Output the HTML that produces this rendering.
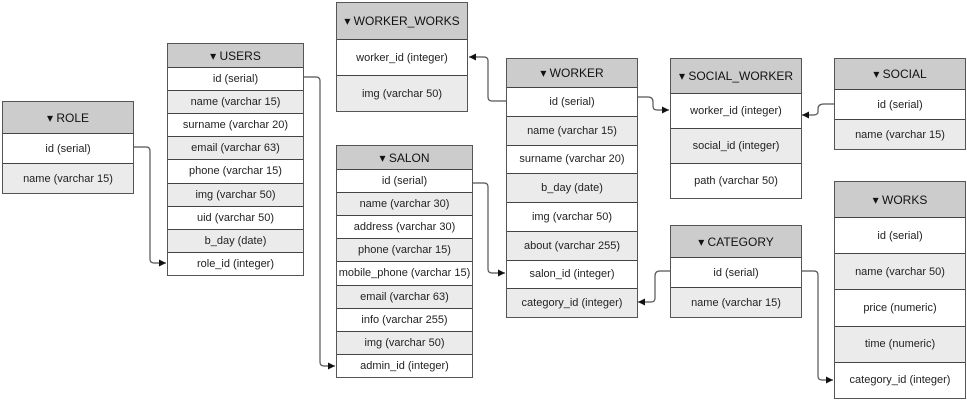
<!DOCTYPE html>
<html><head><meta charset="utf-8"><style>
html,body{margin:0;padding:0;background:#fff;width:967px;height:403px;overflow:hidden;font-family:"Liberation Sans",sans-serif;font-size:11px;color:#222}
.t{position:absolute;border:1px solid #555;box-sizing:border-box;background:#fff;display:flex;flex-direction:column;overflow:hidden}
.t div{display:flex;align-items:center;justify-content:center;box-sizing:border-box;border-top:1px solid #444;white-space:nowrap;flex:1 1 0;min-height:0}
.t div.h{background:#ccc;border-top:none;font-size:12px;color:#111;flex:none}
.t div.g{background:#ebebeb}
svg{position:absolute;left:0;top:0}
</style></head><body>

<div class="t" style="left:2px;top:101px;width:132px;height:93px">
<div class="h" style="height:31px">▾ ROLE</div>
<div>id (serial)</div>
<div class="g">name (varchar 15)</div>
</div>

<div class="t" style="left:167px;top:43px;width:137px;height:233px">
<div class="h" style="height:23px">▾ USERS</div>
<div>id (serial)</div>
<div class="g">name (varchar 15)</div>
<div>surname (varchar 20)</div>
<div class="g">email (varchar 63)</div>
<div>phone (varchar 15)</div>
<div class="g">img (varchar 50)</div>
<div>uid (varchar 50)</div>
<div class="g">b_day (date)</div>
<div>role_id (integer)</div>
</div>

<div class="t" style="left:336px;top:2px;width:132px;height:110px">
<div class="h" style="height:36px">▾ WORKER_WORKS</div>
<div>worker_id (integer)</div>
<div class="g">img (varchar 50)</div>
</div>

<div class="t" style="left:336px;top:145px;width:137px;height:233px">
<div class="h" style="height:23px">▾ SALON</div>
<div>id (serial)</div>
<div class="g">name (varchar 30)</div>
<div>address (varchar 30)</div>
<div class="g">phone (varchar 15)</div>
<div>mobile_phone (varchar 15)</div>
<div class="g">email (varchar 63)</div>
<div>info (varchar 255)</div>
<div class="g">img (varchar 50)</div>
<div>admin_id (integer)</div>
</div>

<div class="t" style="left:506px;top:58px;width:132px;height:260px">
<div class="h" style="height:28px">▾ WORKER</div>
<div>id (serial)</div>
<div class="g">name (varchar 15)</div>
<div>surname (varchar 20)</div>
<div class="g">b_day (date)</div>
<div>img (varchar 50)</div>
<div class="g">about (varchar 255)</div>
<div>salon_id (integer)</div>
<div class="g">category_id (integer)</div>
</div>

<div class="t" style="left:670px;top:58px;width:132px;height:141px">
<div class="h" style="height:34px">▾ SOCIAL_WORKER</div>
<div>worker_id (integer)</div>
<div class="g">social_id (integer)</div>
<div>path (varchar 50)</div>
</div>

<div class="t" style="left:670px;top:225px;width:132px;height:93px">
<div class="h" style="height:31px">▾ CATEGORY</div>
<div>id (serial)</div>
<div class="g">name (varchar 15)</div>
</div>

<div class="t" style="left:834px;top:58px;width:132px;height:92px">
<div class="h" style="height:30px">▾ SOCIAL</div>
<div>id (serial)</div>
<div class="g">name (varchar 15)</div>
</div>

<div class="t" style="left:834px;top:181px;width:132px;height:218px">
<div class="h" style="height:35px">▾ WORKS</div>
<div>id (serial)</div>
<div class="g">name (varchar 50)</div>
<div>price (numeric)</div>
<div class="g">time (numeric)</div>
<div>category_id (integer)</div>
</div>

<svg width="967" height="403" viewBox="0 0 967 403">
<defs><marker id="a" markerWidth="8" markerHeight="8" refX="7" refY="4" orient="auto" markerUnits="userSpaceOnUse"><path d="M0,0.5 L7,4 L0,7.5z" fill="#111"/></marker></defs>
<g fill="none" stroke="#555" stroke-width="1.2" marker-end="url(#a)">
<path d="M134,147 H146 Q150,147 150,151 V259 Q150,263 154,263 H166"/>
<path d="M303,77 H316 Q320,77 320,81 V362 Q320,366 324,366 H335"/>
<path d="M506,101 H492 Q488,101 488,97 V61 Q488,57 484,57 H469"/>
<path d="M637,97 H648 Q653,97 653,102 V106 Q653,110 657,110 H669"/>
<path d="M834,104 H824 Q818,104 818,109 V112 Q818,115 813,115 H802"/>
<path d="M472,183 H484 Q488,183 488,187 V269 Q488,273 492,273 H505"/>
<path d="M670,271 H660 Q655,271 655,276 V298 Q655,302 651,302 H638"/>
<path d="M801,271 H814 Q818,271 818,275 V376 Q818,380 822,380 H833"/>
</g>
</svg>
</body></html>
